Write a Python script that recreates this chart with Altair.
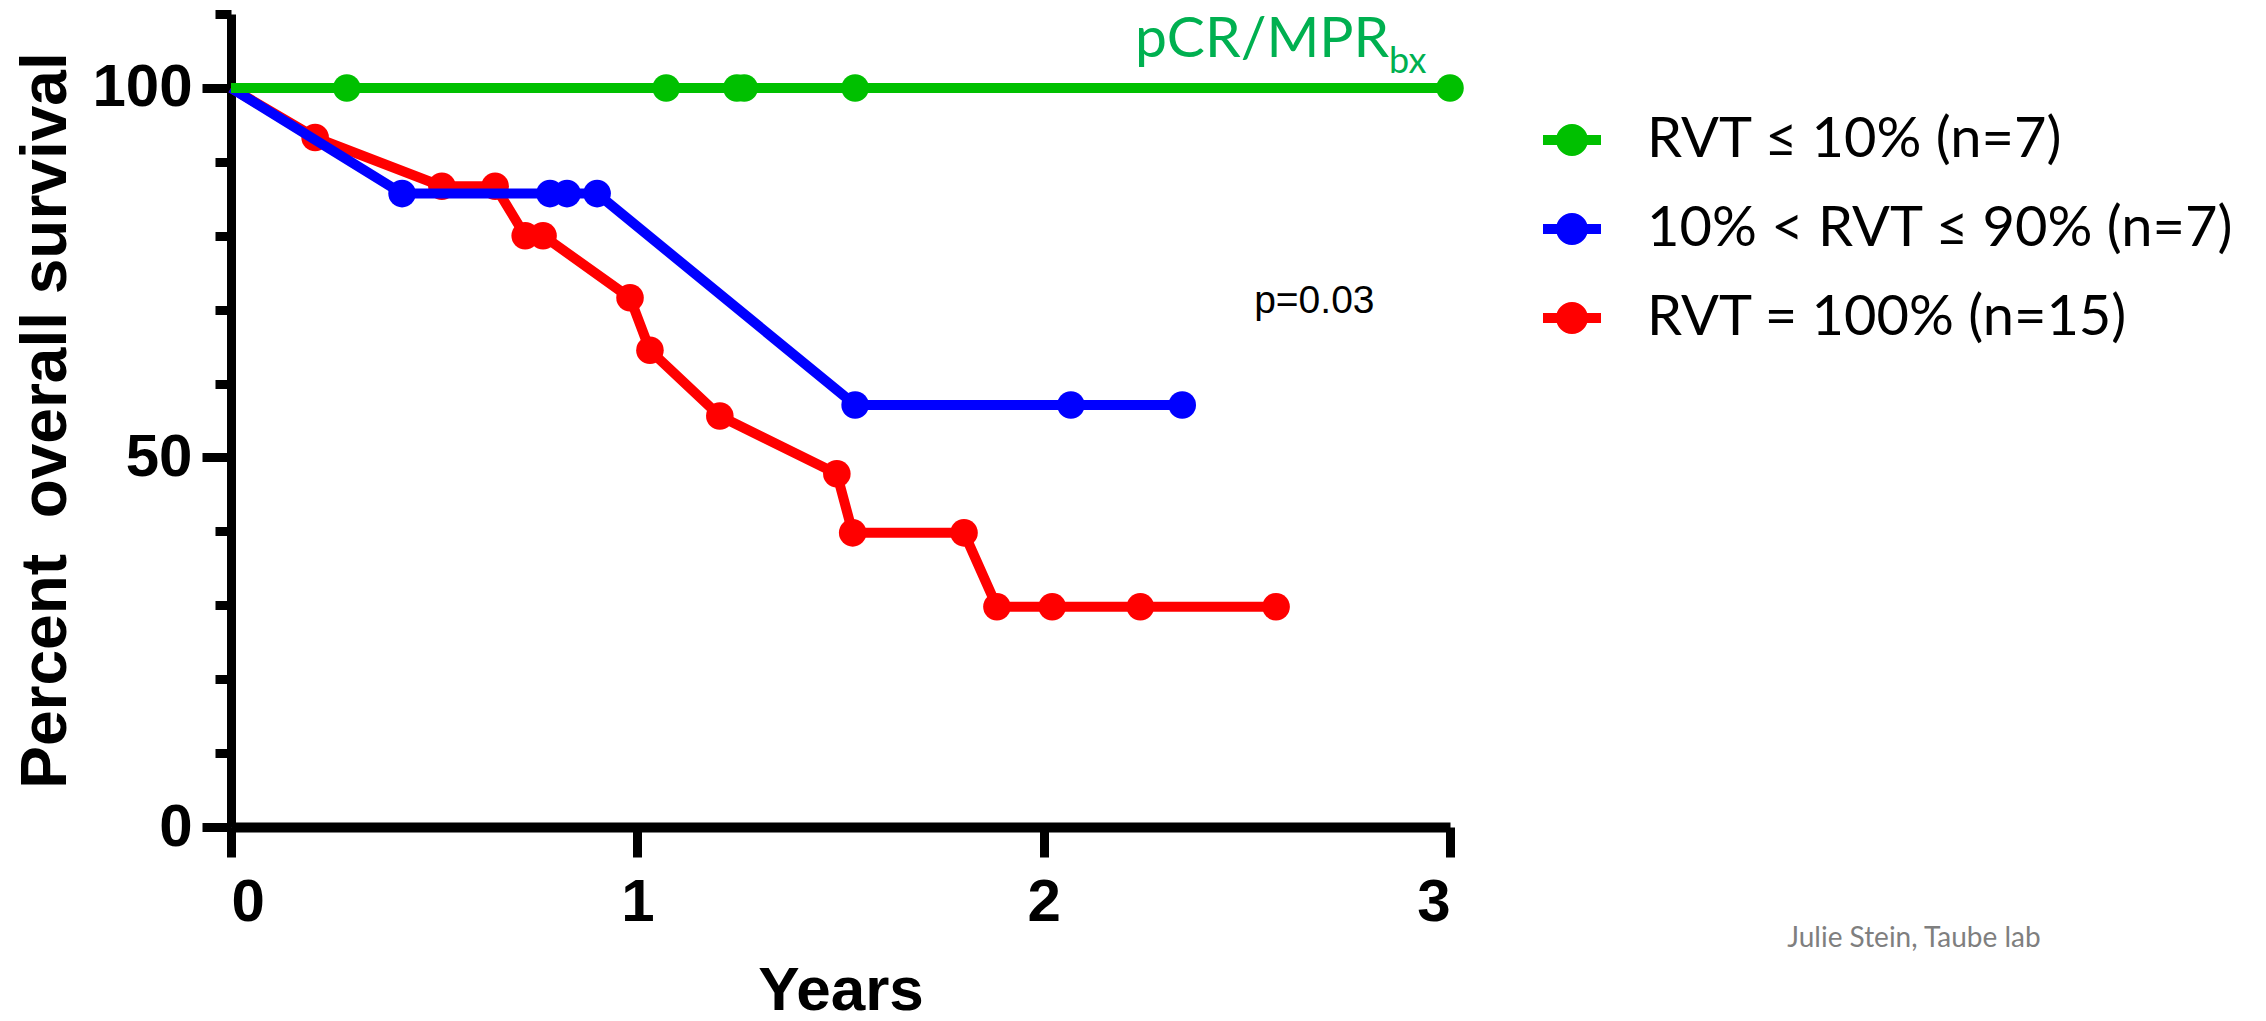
import altair as alt
import pandas as pd

# ---------------- data ----------------
groups = ["RVT ≤ 10% (n=7)", "10% < RVT ≤ 90% (n=7)", "RVT = 100% (n=15)"]
colors = ["#00c000", "#0000ff", "#ff0000"]

green_years = [0, 0.285, 1.071, 1.245, 1.263, 1.536, 3.0]
green_surv = [100, 100, 100, 100, 100, 100, 100]

blue_years = [0, 0.421, 0.785, 0.827, 0.901, 1.536, 2.067, 2.341]
blue_surv = [100, 85.7, 85.7, 85.7, 85.7, 57.1, 57.1, 57.1]

red_years = [0, 0.207, 0.519, 0.650, 0.724, 0.768, 0.982, 1.031, 1.203,
             1.491, 1.530, 1.804, 1.885, 2.021, 2.238, 2.572]
red_surv = [100, 93.3, 86.7, 86.7, 80.0, 80.0, 71.6, 64.5, 55.6,
            47.8, 39.8, 39.8, 29.8, 29.8, 29.8, 29.8]

x_ticks = [0, 1, 2, 3]
y_ticks = [0, 5, 10, 15, 20, 25, 30, 35, 40, 45, 50, 55, 60, 65, 70, 75,
           80, 85, 90, 95, 100, 105, 110]

annotations = ["p=0.03", "pCR/MPR", "bx", "Julie Stein, Taube lab"]

rows = []
for g, ts, ss in [(groups[2], red_years, red_surv),
                  (groups[1], blue_years, blue_surv),
                  (groups[0], green_years, green_surv)]:
    for t, s in zip(ts, ss):
        rows.append({"group": g, "years": t, "survival": s, "marker": t > 0})
df = pd.DataFrame(rows)
one = pd.DataFrame({"k": [0]})

# ---------------- scales / axes ----------------
x_scale = alt.Scale(domain=[0, 3], nice=False, zero=False)
y_scale = alt.Scale(domain=[0, 110], nice=False)
color_scale = alt.Scale(domain=groups, range=colors)

AX = "Liberation Sans"
CAL = "Lato"

x_axis = alt.Axis(
    values=x_ticks, format="d", title="Years",
    labelFont=AX, labelFontWeight="bold", labelFontSize=60, labelColor="black",
    labelPadding=16, tickSize=30, tickWidth=9, tickColor="black",
    domainWidth=10, domainColor="black", grid=False,
    titleFont=AX, titleFontWeight="bold", titleFontSize=62, titleColor="black",
    titleBaseline="alphabetic", titleY=182,
)

y_axis = alt.Axis(
    values=y_ticks, title="Percent\u00a0 overall survival",
    labelExpr="datum.value % 50 === 0 ? datum.label : ''",
    labelFont=AX, labelFontWeight="bold", labelFontSize=60, labelColor="black",
    labelPadding=10,
    tickSize={"condition": {"test": "datum.value % 50 === 0", "value": 29}, "value": 16},
    tickWidth=9, tickColor="black",
    domainWidth=9, domainColor="black", grid=False,
    titleFont=AX, titleFontWeight="bold", titleFontSize=64, titleColor="black",
    titleBaseline="alphabetic", titleX=-166, titleY=406, titleAngle=270,
)

legend_symbol = ("M-1,-0.17H1V0.17H-1Z "
                 "M0.55,0A0.55,0.55,0,1,1,-0.55,0A0.55,0.55,0,1,1,0.55,0Z")

legend = alt.Legend(
    title=None, orient="none", legendX=1312, legendY=97,
    labelFont=CAL, labelFontSize=56, labelColor="black", labelLimit=1000,
    labelOffset=46, symbolType=legend_symbol, symbolSize=3364,
    symbolStrokeWidth=0, symbolOpacity=1, rowPadding=32, padding=0,
)

base = alt.Chart(df)

points = base.transform_filter("datum.marker").mark_circle(size=760, opacity=1).encode(
    x=alt.X("years:Q", scale=x_scale, axis=x_axis),
    y=alt.Y("survival:Q", scale=y_scale, axis=y_axis),
    color=alt.Color("group:N", scale=color_scale, legend=legend),
)

lines = base.mark_line(strokeWidth=10).encode(
    x=alt.X("years:Q", scale=x_scale),
    y=alt.Y("survival:Q", scale=y_scale),
    color=alt.Color("group:N", scale=color_scale, legend=None),
    order=alt.Order("years:Q"),
)

pval = alt.Chart(one).mark_text(
    text=annotations[0], font=AX, fontSize=39, fontWeight="normal", color="black",
    align="left", baseline="alphabetic",
).encode(x=alt.datum(2.518), y=alt.datum(69.6))

pcr = alt.Chart(one).mark_text(
    text=annotations[1], font=CAL, fontSize=57, fontWeight="normal", color="#00b050",
    align="left", baseline="alphabetic",
).encode(x=alt.datum(2.225), y=alt.datum(104.2))

pcr_sub = alt.Chart(one).mark_text(
    text=annotations[2], font=CAL, fontSize=36, fontWeight="normal", color="#00b050",
    align="left", baseline="alphabetic",
).encode(x=alt.datum(2.850), y=alt.datum(102.0))

credit = alt.Chart(one).mark_text(
    text=annotations[3], font=CAL, fontSize=28, fontWeight="normal", color="#7f7f7f",
    align="left", baseline="alphabetic",
).encode(x=alt.datum(3.830), y=alt.datum(-16.2))

chart = alt.layer(points, lines, pval, pcr, pcr_sub, credit).properties(
    width=1219, height=813,
    autosize=alt.AutoSizeParams(type="none"),
    padding={"left": 223, "top": 6, "right": 800, "bottom": 189},
).configure_view(stroke=None)

chart.save("out.html", embed_options={"renderer": "svg", "actions": False})
